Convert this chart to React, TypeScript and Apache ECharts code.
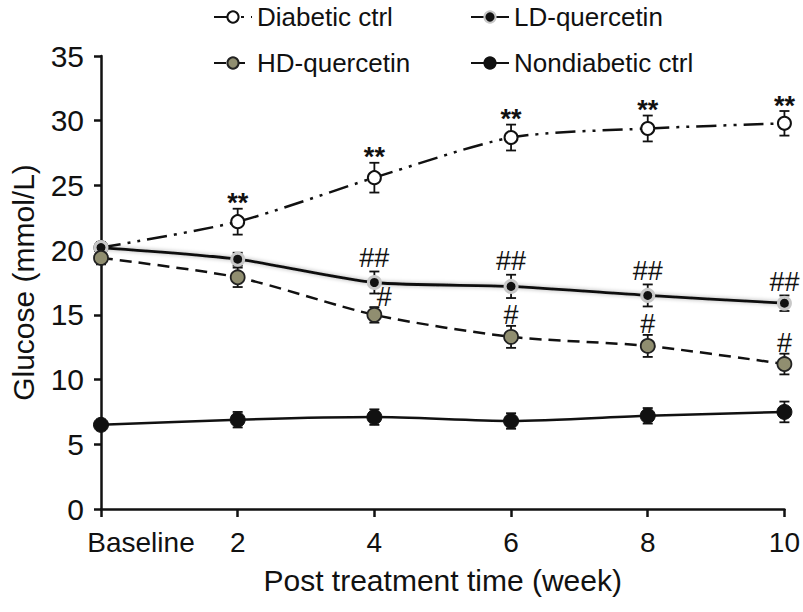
import React, { useEffect, useRef } from "react";
import * as echarts from "echarts";

const weeks = ["Baseline", "2", "4", "6", "8", "10"];
const yTicks = [0, 5, 10, 15, 20, 25, 30, 35];

const diabeticMean = [20.2, 22.2, 25.6, 28.7, 29.4, 29.8];
const diabeticErr = [0.4, 1.0, 1.15, 1.0, 1.0, 0.95];
const ldMean = [20.2, 19.3, 17.5, 17.2, 16.5, 15.9];
const ldErr = [0.4, 0.5, 0.85, 0.9, 0.85, 0.6];
const hdMean = [19.4, 17.9, 15.0, 13.3, 12.6, 11.2];
const hdErr = [0.5, 0.75, 0.6, 0.85, 0.85, 0.8];
const ndMean = [6.5, 6.9, 7.1, 6.8, 7.2, 7.5];
const ndErr = [0.4, 0.6, 0.6, 0.6, 0.6, 0.8];

const diabeticSig = ["", "**", "**", "**", "**", "**"];
const ldSig = ["", "", "##", "##", "##", "##"];
const hdSig = ["", "", "#", "#", "#", "#"];

const FONT = "'Liberation Sans', Arial, Helvetica, sans-serif";

function errorSeries(mean: number[], err: number[], z: number) {
  return {
    type: "custom",
    z,
    silent: true,
    data: mean.map((m, i) => [i, m, err[i]]),
    renderItem: (params: any, api: any) => {
      const x = api.value(0);
      const m = api.value(1);
      const e = api.value(2);
      const top = api.coord([x, m + e]);
      const bot = api.coord([x, m - e]);
      const w = 5;
      const st = { stroke: "#111", lineWidth: 1.8 };
      return {
        type: "group",
        children: [
          { type: "line", shape: { x1: top[0], y1: top[1], x2: bot[0], y2: bot[1] }, style: st },
          { type: "line", shape: { x1: top[0] - w, y1: top[1], x2: top[0] + w, y2: top[1] }, style: st },
          { type: "line", shape: { x1: bot[0] - w, y1: bot[1], x2: bot[0] + w, y2: bot[1] }, style: st },
        ],
      };
    },
  };
}

function sigSeries(mean: number[], err: number[], sig: string[], dx: number[], gap: number, size: number, bold: boolean) {
  return {
    type: "custom",
    z: 20,
    silent: true,
    data: mean.map((m, i) => [i, m, err[i]]),
    renderItem: (params: any, api: any) => {
      const i = api.value(0);
      const text = sig[i];
      if (!text) return null;
      const top = api.coord([i, api.value(1) + api.value(2)]);
      return {
        type: "text",
        x: top[0] + dx[i],
        y: top[1] - gap,
        style: {
          text,
          fill: "#111",
          fontSize: size,
          fontWeight: bold ? "bold" : "normal",
          fontFamily: FONT,
          align: "center",
          verticalAlign: "bottom",
        },
      };
    },
  };
}

export default function App() {
  const ref = useRef<HTMLDivElement>(null);
  useEffect(() => {
    if (!ref.current) return;
    const chart = echarts.init(ref.current, null, { renderer: "svg" });
    const legendBase = {
      itemWidth: 38,
      itemHeight: 14,
      padding: 0,
      textStyle: { fontSize: 26, fontFamily: FONT, color: "#111" },
      selectedMode: false,
    };
    chart.setOption({
      animation: false,
      backgroundColor: "#fff",
      legend: [
        { ...legendBase, left: 213, top: 4, data: ["Diabetic ctrl"] },
        { ...legendBase, left: 470, top: 4, data: ["LD-quercetin"] },
        { ...legendBase, left: 213, top: 50, data: ["HD-quercetin"] },
        { ...legendBase, left: 470, top: 50, data: ["Nondiabetic ctrl"] },
      ],
      grid: { left: 100, right: 16, top: 56, bottom: 103, containLabel: false },
      xAxis: {
        type: "category",
        data: weeks,
        boundaryGap: false,
        name: "Post treatment time (week)",
        nameLocation: "middle",
        nameGap: 56,
        nameTextStyle: { fontSize: 30, fontFamily: FONT, color: "#111" },
        axisLine: { lineStyle: { color: "#111", width: 2.5 } },
        axisTick: { show: true, interval: 0, length: 8, lineStyle: { color: "#111", width: 2.5 } },
        axisLabel: {
          interval: 0,
          hideOverlap: false,
          fontSize: 28,
          fontFamily: FONT,
          color: "#111",
          margin: 19,
          formatter: (v: string) => (v === "Baseline" ? "{b|" + v + "}" : v),
          rich: { b: { fontSize: 28, fontFamily: FONT, color: "#111", padding: [0, 0, 0, 80] } },
        },
        splitLine: { show: false },
      },
      yAxis: {
        type: "value",
        min: 0,
        max: 35,
        interval: 5,
        name: "Glucose (mmol/L)",
        nameLocation: "middle",
        nameGap: 63,
        nameTextStyle: { fontSize: 30, fontFamily: FONT, color: "#111" },
        axisLine: { show: true, lineStyle: { color: "#111", width: 2.5 } },
        axisTick: { show: true, length: 7, lineStyle: { color: "#111", width: 2.5 } },
        axisLabel: {
          fontSize: 30,
          fontFamily: FONT,
          color: "#111",
          margin: 17,
          formatter: (v: number) => (yTicks.includes(v) ? String(v) : ""),
        },
        splitLine: { show: false },
      },
      series: [
        errorSeries(diabeticMean, diabeticErr, 1),
        errorSeries(ldMean, ldErr, 1),
        errorSeries(hdMean, hdErr, 1),
        errorSeries(ndMean, ndErr, 1),
        {
          name: "Diabetic ctrl",
          type: "line",
          z: 5,
          smooth: 0.25,
          data: diabeticMean,
          symbol: "circle",
          symbolSize: 13,
          itemStyle: { color: "#fff", borderColor: "#111", borderWidth: 2 },
          lineStyle: { color: "#111", width: 2.5, type: [20, 7, 3, 7, 3, 7] },
        },
        {
          name: "LD-quercetin",
          type: "line",
          z: 5,
          smooth: 0.25,
          data: ldMean,
          symbol: "circle",
          symbolSize: 12,
          itemStyle: { color: "#111", borderColor: "#c8c8c8", borderWidth: 3 },
          lineStyle: { color: "#111", width: 2.8, shadowBlur: 4, shadowColor: "rgba(0,0,0,0.35)" },
        },
        {
          name: "HD-quercetin",
          type: "line",
          z: 5,
          smooth: 0.25,
          data: hdMean,
          symbol: "circle",
          symbolSize: 14,
          itemStyle: { color: "#908e70", borderColor: "#222", borderWidth: 1.8 },
          lineStyle: { color: "#111", width: 2.5, type: [12, 7] },
        },
        {
          name: "Nondiabetic ctrl",
          type: "line",
          z: 5,
          smooth: 0.25,
          data: ndMean,
          symbol: "circle",
          symbolSize: 15,
          itemStyle: { color: "#111", borderColor: "#111", borderWidth: 1 },
          lineStyle: { color: "#111", width: 2.5 },
        },
        sigSeries(diabeticMean, diabeticErr, diabeticSig, [0, 0, 0, 0, 0, 0], -8, 27, true),
        sigSeries(ldMean, ldErr, ldSig, [0, 0, 0, 0, 0, 0], 0, 27, false),
        sigSeries(hdMean, hdErr, hdSig, [0, 0, 10, 0, 0, 0], -3, 27, false),
      ],
    });
    return () => chart.dispose();
  }, []);
  return (
    <div
      ref={ref}
      style={{ position: "fixed", left: 0, top: 0, width: 803, height: 612, background: "#fff" }}
    />
  );
}
